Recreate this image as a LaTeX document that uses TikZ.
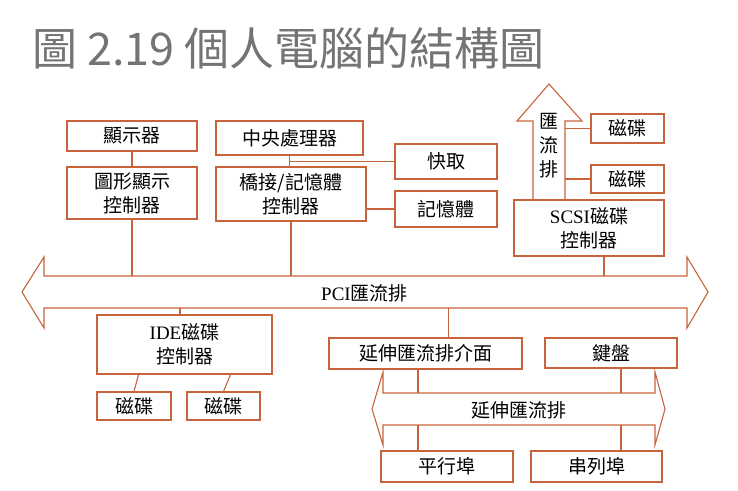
\documentclass[tikz,border=0pt]{standalone}
\usepackage{fontspec}
\setmainfont{Liberation Serif}
\newfontfamily\cjk{Noto Sans CJK TC}
\usetikzlibrary{positioning, calc}
\definecolor{sbrick}{HTML}{C8643C}
\definecolor{sgray}{HTML}{747474}
\tikzset{
  box/.style={
    draw=sbrick, fill=white, line width=1.1pt,
    align=center, inner sep=0pt, font=\fontsize{19}{24}\selectfont\cjk
  },
  sz/.style 2 args={minimum width=#1pt, minimum height=#2pt},
  wire/.style={draw=sbrick, line width=1.1pt},
  bus/.style={draw=sbrick, line width=1.1pt, line join=miter},
  buslab/.style={font=\fontsize{19}{24}\selectfont\cjk, inner sep=0pt, align=center},
  title/.style={font=\fontsize{45}{52}\selectfont\cjk, text=sgray, inner sep=0pt}
}
\begin{document}
\begin{tikzpicture}[x=1pt, y=-1pt]
  \path[fill=white, use as bounding box] (0,0) rectangle (738,490);

  \node[title, anchor=west] (title) at (32,48) {圖 2.19 個人電腦的結構圖};

  % buses
  \draw[bus] (22,292) -- (44,257) -- (44,276) -- (687,276) -- (687,257) -- (708,292)
    -- (687,328) -- (687,308) -- (44,308) -- (44,328) -- cycle;
  \coordinate (pcitop) at (0,276);
  \coordinate (pcibot) at (0,308);
  \node[buslab] (pcilab) at (364.5,293) {{\rmfamily PCI}匯流排};

  \draw[bus] (372,409) -- (383,372) -- (383,393) -- (655,393) -- (655,372) -- (665,409)
    -- (655,445) -- (655,425) -- (383,425) -- (383,445) -- cycle;
  \coordinate (exttop) at (0,393);
  \coordinate (extbot) at (0,425);
  \node[buslab] (extlab) at (519,410) {延伸匯流排};

  \draw[bus] (533,200) -- (533,121) -- (517,121) -- (549,84) -- (582,121) -- (565,121) -- (565,200);
  \coordinate (scsiright) at (565,0);
  \node[buslab] (scsilab) at (549,146) {匯\\流\\排};

  % boxes
  \node[box, sz={130}{30}] (disp) at (132,136) {顯示器};
  \node[box, sz={130}{52}] (gfx) at (132,193) {圖形顯示\\控制器};
  \node[box, sz={147}{34}] (cpu) at (289.5,138) {中央處理器};
  \node[box, sz={150}{54}] (bridge) at (291,194) {橋接/記憶體\\控制器};
  \node[box, sz={102}{35}] (cache) at (446,161.5) {快取};
  \node[box, sz={102}{36}] (mem) at (446,209) {記憶體};
  \node[box, sz={150}{56}] (scsi) at (589,228) {{\rmfamily SCSI}磁碟\\控制器};
  \node[box, sz={73}{29}] (sdisk1) at (627.5,128.5) {磁碟};
  \node[box, sz={73}{28}] (sdisk2) at (627.5,179) {磁碟};
  \node[box, sz={175}{59}] (ide) at (184.5,344.5) {{\rmfamily IDE}磁碟\\控制器};
  \node[box, sz={74}{28}] (idisk1) at (134,406) {磁碟};
  \node[box, sz={73}{28}] (idisk2) at (223.5,406) {磁碟};
  \node[box, sz={193}{31}] (extif) at (425.5,353.5) {延伸匯流排介面};
  \node[box, sz={132}{30}] (kbd) at (611,353) {鍵盤};
  \node[box, sz={132}{31}] (par) at (447,466.5) {平行埠};
  \node[box, sz={131}{31}] (ser) at (596.5,466.5) {串列埠};

  % connectors
  \draw[wire] (disp) -- (gfx);
  \draw[wire] (gfx) -- (gfx |- pcitop);
  \draw[wire] (cpu.south) -- (cpu.south |- bridge.north);
  \draw[wire] (cpu.south |- cache.west) -- (cache.west);
  \draw[wire] (mem.west) -- (mem.west -| bridge.east);
  \draw[wire] (bridge) -- (bridge |- pcitop);
  \draw[wire] (sdisk1.west) -- (sdisk1.west -| scsiright);
  \draw[wire] (sdisk2.west) -- (sdisk2.west -| scsiright);
  \coordinate (scsidrop) at ([xshift=15pt]scsi.south);
  \draw[wire] (scsidrop) -- (scsidrop |- pcitop);
  \coordinate (idetap) at ([xshift=-4.5pt]ide.north);
  \draw[wire] (idetap) -- (idetap |- pcibot);
  \draw[wire] (idisk1.north) -- ([xshift=-46pt]ide.south);
  \draw[wire] (idisk2.north) -- ([xshift=46pt]ide.south);
  \coordinate (extiftap) at ([xshift=23pt]extif.north);
  \draw[wire] (extiftap) -- (extiftap |- pcibot);
  \coordinate (lefttap) at (418,0);
  \coordinate (righttap) at (621,0);
  \draw[wire] (extif.south -| lefttap) -- (lefttap |- exttop);
  \draw[wire] (par.north -| lefttap) -- (lefttap |- extbot);
  \draw[wire] (kbd.south -| righttap) -- (righttap |- exttop);
  \draw[wire] (ser.north -| righttap) -- (righttap |- extbot);
\end{tikzpicture}
\end{document}
